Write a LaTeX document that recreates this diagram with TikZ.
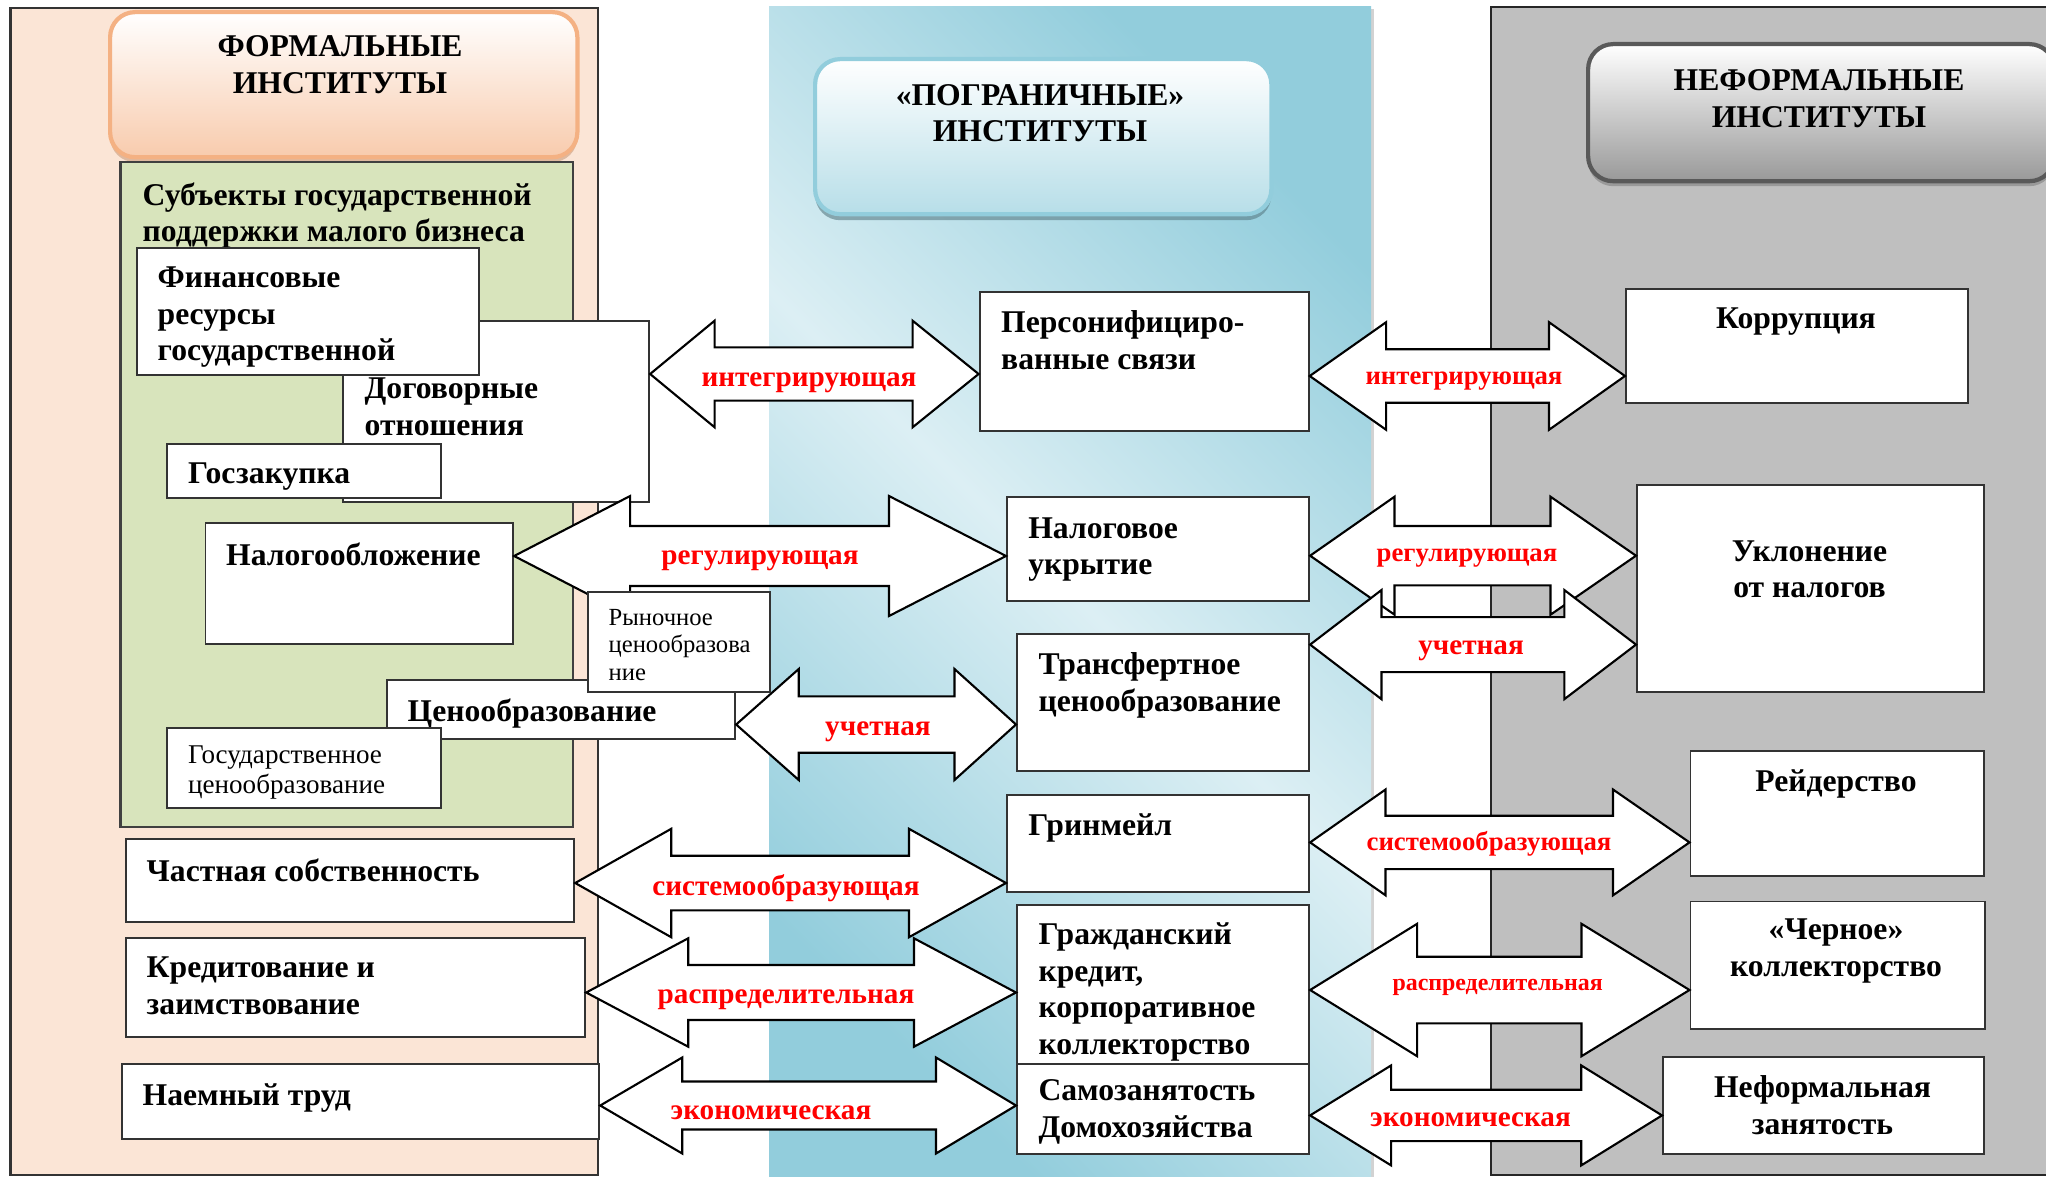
\documentclass[tikz,border=0pt]{standalone}
\usepackage{fontspec}
\setmainfont{Liberation Serif}
\usetikzlibrary{positioning,calc,shadows}
\definecolor{peachbg}{RGB}{251,229,214}
\definecolor{peachhead}{RGB}{248,203,173}
\definecolor{peachline}{RGB}{244,177,131}
\definecolor{greenbg}{RGB}{216,228,188}
\definecolor{bluelight}{RGB}{220,239,244}
\definecolor{bluedark}{RGB}{146,205,220}
\definecolor{bluehead}{RGB}{183,222,232}
\definecolor{grayback}{RGB}{191,191,191}
\definecolor{labelred}{RGB}{255,0,0}
\tikzset{
  box/.style={draw=black!80, fill=white, line width=0.55pt, anchor=north west, inner sep=0pt},
  txt/.style={anchor=north west, inner sep=0pt, align=left, font=\bfseries\fontsize{9}{10.4}\selectfont},
  ctxt/.style={txt, anchor=north, align=center},
  small/.style={txt, font=\fontsize{7.7}{8.6}\selectfont},
  lbl/.style={anchor=base, inner sep=0pt, text=labelred, font=\bfseries\fontsize{8.3}{9}\selectfont},
  lblsm/.style={lbl, font=\bfseries\fontsize{7.6}{8.4}\selectfont},
  blockarrow/.style={draw=black, fill=white, line width=0.6pt, line join=miter},
  head/.style={rounded corners=0.25cm, line width=1.2pt, anchor=north west, inner sep=0pt}
}
\newcommand{\dblarrow}[6]{%
  \draw[blockarrow] (#1) -- ++(#5,-#4) -- ++(0,{#4-#3}) -- ($(#2)+(-#6,-#3)$)
    -- ++(0,{#3-#4}) -- (#2) -- ++(-#6,#4) -- ++(0,{#3-#4})
    -- ($(#1)+(#5,#3)$) -- ++(0,{#4-#3}) -- cycle;}

\begin{document}
\begin{tikzpicture}[x=0.01cm, y=-0.01cm]
\path[use as bounding box, fill=white] (0,0) rectangle (2046,1176);

\draw[fill=peachbg, draw=black!80, line width=0.7pt] (10.7,8) rectangle (598,1175);
\path[top color=bluedark, bottom color=bluedark, middle color=bluelight, shading angle=-45,
  drop shadow={shadow xshift=0.03cm, shadow yshift=-0.02cm, opacity=0.35}] (769,7) rectangle (1371,1176);
\draw[fill=grayback, draw=black!85, line width=0.7pt] (1491,7) rectangle (2060,1175);

\node[head, draw=peachline, top color=white, bottom color=peachhead,
  drop shadow={shadow xshift=0cm, shadow yshift=-0.05cm, fill=peachline!80!black, opacity=0.5},
  minimum width=4.67cm, minimum height=1.45cm] (formal) at (108,10) {};
\node[ctxt] (formalt) at (340,35) {ФОРМАЛЬНЫЕ\\ИНСТИТУТЫ};
\node[head, draw=bluedark, top color=white, bottom color=bluehead,
  drop shadow={shadow xshift=0cm, shadow yshift=-0.06cm, fill=bluedark!60!black, opacity=0.6},
  minimum width=4.56cm, minimum height=1.55cm] (border) at (813,57) {};
\node[ctxt] (bordert) at (1040,83.5) {«ПОГРАНИЧНЫЕ»\\ИНСТИТУТЫ};
\node[head, draw=black!65, top color=white, bottom color=black!40,
  drop shadow={shadow xshift=0cm, shadow yshift=-0.05cm, fill=black!50, opacity=0.6},
  minimum width=4.66cm, minimum height=1.37cm] (informal) at (1586,42) {};
\node[ctxt] (informalt) at (1819,69) {НЕФОРМАЛЬНЫЕ\\ИНСТИТУТЫ};

\draw[fill=greenbg, draw=black!75, line width=0.6pt] (120.5,161.7) rectangle (573,826.7);
\node[txt] (subt) at (142,182) {Субъекты государственной\\поддержки малого бизнеса};

\node[box, minimum width=3.06cm, minimum height=1.81cm] (dog) at (342,320) {};
\node[txt] (dogt) at (364,377) {Договорные\\отношения};
\node[box, minimum width=3.42cm, minimum height=1.27cm] (fin) at (136,247) {};
\node[txt] (fint) at (157,266) {Финансовые\\ресурсы\\государственной};
\node[box, minimum width=2.74cm, minimum height=0.54cm] (gos) at (166,443) {};
\node[txt] (gost) at (187.5,462) {Госзакупка};
\node[box, minimum width=3.075cm, minimum height=1.21cm] (nal) at (204.5,521.7) {};
\node[txt] (nalt) at (225.5,541.7) {Налогообложение};
\node[box, minimum width=3.48cm, minimum height=0.59cm] (cen) at (386,679) {};
\node[txt] (cent) at (407,698) {Ценообразование};
\node[box, minimum width=2.74cm, minimum height=0.8cm] (goscen) at (166,727) {};
\node[small] (goscent) at (187.5,745) {Государственное\\ценообразование};
\node[box, minimum width=4.48cm, minimum height=0.83cm] (chast) at (125,838) {};
\node[txt] (chastt) at (146,858) {Частная собственность};
\node[box, minimum width=4.59cm, minimum height=0.99cm] (kred) at (125,937) {};
\node[txt] (kredt) at (146,956) {Кредитование и\\заимствование};
\node[box, minimum width=4.77cm, minimum height=0.75cm] (naem) at (121,1063) {};
\node[txt] (naemt) at (142,1083) {Наемный труд};

\node[box, minimum width=3.29cm, minimum height=1.39cm] (pers) at (978.6,291) {};
\node[txt] (perst) at (1000.5,310) {Персонифициро-\\ванные связи};
\node[box, minimum width=3.02cm, minimum height=1.04cm] (nalu) at (1006,496) {};
\node[txt] (nalut) at (1027.6,516.7) {Налоговое\\укрытие};
\node[box, minimum width=2.92cm, minimum height=1.37cm] (trans) at (1016,633) {};
\node[txt] (transt) at (1037.8,652) {Трансфертное\\ценообразование};
\node[box, minimum width=3.02cm, minimum height=0.97cm] (grin) at (1006,794) {};
\node[txt] (grint) at (1027.6,813) {Гринмейл};
\node[box, minimum width=2.92cm, minimum height=1.59cm] (grazh) at (1016,904) {};
\node[txt] (grazht) at (1037.8,922) {Гражданский\\кредит,\\корпоративное\\коллекторство};
\node[box, minimum width=2.92cm, minimum height=0.9cm] (samo) at (1016,1063) {};
\node[txt] (samot) at (1037.8,1079) {Самозанятость\\Домохозяйства};

\node[box, minimum width=3.42cm, minimum height=1.14cm] (korr) at (1625,288) {};
\node[ctxt] (korrt) at (1796,307.4) {Коррупция};
\node[box, minimum width=3.47cm, minimum height=2.07cm] (ukl) at (1636,484) {};
\node[ctxt] (uklt) at (1809.5,539.6) {Уклонение\\от налогов};
\node[box, minimum width=2.935cm, minimum height=1.25cm] (reid) at (1689.5,750) {};
\node[ctxt] (reidt) at (1836,769) {Рейдерство};
\node[box, minimum width=2.945cm, minimum height=1.27cm] (cher) at (1689.5,900.5) {};
\node[ctxt] (chert) at (1836,918.3) {«Черное»\\коллекторство};
\node[box, minimum width=3.21cm, minimum height=0.97cm] (neform) at (1662,1056) {};
\node[ctxt] (neformt) at (1822.5,1075) {Неформальная\\занятость};

\dblarrow{dog.east |- 0,374}{pers.west |- 0,374}{26.6}{53.3}{64.5}{66}
\dblarrow{nal.east |- 0,556}{nalu.west |- 0,556}{30}{60}{116}{117}
\dblarrow{cen.east |- 0,724.5}{trans.west |- 0,724.5}{28.2}{55.5}{62.6}{61.5}
\dblarrow{chast.east |- 0,883}{grin.west |- 0,883}{27.3}{54.2}{96}{97}
\dblarrow{kred.east |- 0,992.5}{grazh.west |- 0,992.5}{27.5}{54.2}{102}{102}
\dblarrow{naem.east |- 0,1105.5}{samo.west |- 0,1105.5}{24}{48}{82}{80}
\dblarrow{pers.east |- 0,376}{korr.west |- 0,376}{26.8}{53.8}{76.4}{76}
\dblarrow{nalu.east |- 0,555.7}{ukl.west |- 0,555.7}{29.7}{59}{84.4}{85.5}
\dblarrow{trans.east |- 0,644.6}{ukl.west |- 0,644.6}{27.5}{54.6}{71.4}{71.7}
\dblarrow{grin.east |- 0,842.4}{reid.west |- 0,842.4}{26.7}{52.9}{75.4}{76.5}
\dblarrow{grazh.east |- 0,990}{cher.west |- 0,990}{33.3}{66.2}{107}{108}
\dblarrow{samo.east |- 0,1115.4}{neform.west |- 0,1115.4}{25.7}{50}{81}{80.8}

\node[box, minimum width=1.82cm, minimum height=1cm] (ryn) at (587,591) {};
\node[txt, font=\fontsize{7}{7.8}\selectfont] (rynt) at (608,608.7) {Рыночное\\ценообразова\\ние};

\node[lbl] (la1) at (809,386) {интегрирующая};
\node[lbl] (la2) at (760,564.5) {регулирующая};
\node[lbl] (la3) at (878,735) {учетная};
\node[lbl] (la4) at (786,895) {системообразующая};
\node[lbl] (la5) at (786,1003) {распределительная};
\node[lbl] (la6) at (771,1119) {экономическая};
\node[lblsm] (lb1) at (1464,384) {интегрирующая};
\node[lblsm] (lb2) at (1467,561.4) {регулирующая};
\node[lbl] (lb3) at (1471,654) {учетная};
\node[lblsm] (lb4) at (1489,850.7) {системообразующая};
\node[lbl, font=\bfseries\fontsize{6.8}{7.5}\selectfont] (lb5) at (1497.6,990.6) {распределительная};
\node[lbl] (lb6) at (1470.5,1126) {экономическая};
\end{tikzpicture}
\end{document}
